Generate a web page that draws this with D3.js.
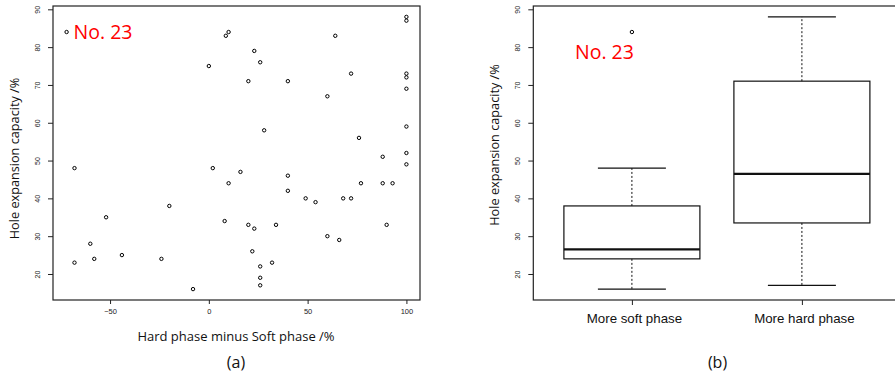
<!DOCTYPE html>
<html>
<head>
<meta charset="utf-8">
<script src="https://cdn.jsdelivr.net/npm/d3@7"></script>
<style>
  html, body { margin: 0; padding: 0; background: #fff; }
  svg { display: block; font-family: "Open Sans", sans-serif; }
</style>
</head>
<body>
<svg id="chart" width="895" height="377"></svg>
<script>
// Hard phase minus soft phase (%) and hole expansion capacity (%) per steel
const hardMinusSoft = [
  -72, -68, -68, -60, -58, -52, -44, -24, -20, -8,
  0,
  2, 8, 8.6, 10, 10, 16, 20, 20, 22, 23,
  23, 26, 26, 26, 26, 28, 32, 34, 40, 40,
  40, 49, 54, 60, 60, 64, 66, 68, 72, 72,
  76, 77, 88, 88, 90, 93, 100, 100, 100, 100,
  100, 100, 100, 100
];
const holeExpansion = [
  84, 48, 23, 28, 24, 35, 25, 24, 38, 16,
  75,
  48, 34, 83, 84, 44, 47, 71, 33, 26, 79,
  32, 76, 22, 19, 17, 58, 23, 33, 71, 46,
  42, 40, 39, 67, 30, 83, 29, 40, 73, 40,
  56, 44, 51, 44, 33, 44, 88, 87, 73, 72,
  69, 59, 52, 49
];

const groupNames = ["More soft phase", "More hard phase"];
const yTicks = [20, 30, 40, 50, 60, 70, 80, 90];
const xTicks = [-50, 0, 50, 100];
const highlightLabel = "No. 23";
const xTitle = "Hard phase minus Soft phase /%";
const yTitle = "Hole expansion capacity /%";
const panelTags = ["(a)", "(b)"];

const svg = d3.select("#chart");
const fmt = d => d < 0 ? "\u2212" + Math.abs(d) : String(d);

// R-style range padding: 4% on each side
function padded(ext) {
  const p = (ext[1] - ext[0]) * 0.04;
  return [ext[0] - p, ext[1] + p];
}

const plotTop = 6, plotBottom = 300;
const y = d3.scaleLinear().domain(padded(d3.extent(holeExpansion))).range([plotBottom, plotTop]);

// ---------- panel (a): scatter ----------
const aLeft = 53, aRight = 420;
const x = d3.scaleLinear().domain(padded(d3.extent(hardMinusSoft))).range([aLeft, aRight]);

function yAxis(g, x0) {
  g.attr("transform", `translate(${x0},0)`)
    .call(d3.axisLeft(y).tickValues(yTicks).tickSize(5).tickFormat(fmt));
  g.select(".domain").remove();
  g.selectAll(".tick line").attr("stroke", "#222").attr("stroke-width", 1);
  g.selectAll(".tick text")
    .attr("x", null).attr("dy", null)
    .attr("transform", "translate(-15.5,0) rotate(-90)")
    .attr("text-anchor", "middle")
    .attr("dominant-baseline", "central")
    .attr("font-size", 7).attr("fill", "#222");
}

const pa = svg.append("g");
pa.append("g").call(yAxis, aLeft);
const xa = pa.append("g").attr("transform", `translate(0,${plotBottom})`)
  .call(d3.axisBottom(x).tickValues(xTicks).tickSize(4).tickFormat(fmt));
xa.select(".domain").remove();
xa.selectAll(".tick line").attr("stroke", "#222").attr("stroke-width", 1);
xa.selectAll(".tick text").attr("y", 11).attr("dy", null)
  .attr("dominant-baseline", "central").attr("font-size", 7.5).attr("fill", "#222");

pa.append("rect").attr("x", aLeft).attr("y", plotTop)
  .attr("width", aRight - aLeft).attr("height", plotBottom - plotTop)
  .attr("fill", "none").attr("stroke", "#222").attr("stroke-width", 1.2);

pa.append("g").selectAll("circle")
  .data(hardMinusSoft.map((v, i) => [v, holeExpansion[i]]))
  .join("circle")
  .attr("cx", d => x(d[0])).attr("cy", d => y(d[1]))
  .attr("r", 1.7).attr("fill", "none").attr("stroke", "#000").attr("stroke-width", 1);

// label next to the steel with the largest soft-phase excess
const i23 = d3.minIndex(hardMinusSoft);
pa.append("text").attr("x", x(hardMinusSoft[i23]) + 7).attr("y", y(holeExpansion[i23]) + 7)
  .attr("fill", "#ff0000").attr("font-size", 19.5).text(highlightLabel);

pa.append("text").attr("x", 236).attr("y", 341).attr("text-anchor", "middle")
  .attr("font-size", 13).attr("fill", "#111").text(xTitle);
pa.append("text").attr("transform", "translate(19,158.5) rotate(-90)").attr("text-anchor", "middle")
  .attr("font-size", 12.7).attr("fill", "#111").text(yTitle);
pa.append("text").attr("x", 236).attr("y", 368).attr("text-anchor", "middle")
  .attr("font-size", 16).attr("fill", "#111").text(panelTags[0]);

// ---------- panel (b): box plots ----------
function fivenum(v) {
  const s = v.slice().sort((a, b) => a - b), n = s.length;
  const n4 = Math.floor((n + 3) / 2) / 2;
  return [1, n4, (n + 1) / 2, n + 1 - n4, n]
    .map(i => 0.5 * (s[Math.floor(i) - 1] + s[Math.ceil(i) - 1]));
}
function boxStats(v) {
  const f = fivenum(v), iqr = f[3] - f[1];
  const lo = f[1] - 1.5 * iqr, hi = f[3] + 1.5 * iqr;
  const inside = v.filter(d => d >= lo && d <= hi);
  return {
    q1: f[1], med: f[2], q3: f[3],
    wLo: d3.min(inside), wHi: d3.max(inside),
    out: v.filter(d => d < lo || d > hi)
  };
}
const soft = holeExpansion.filter((d, i) => hardMinusSoft[i] < 0);
const hard = holeExpansion.filter((d, i) => hardMinusSoft[i] > 0);
const boxes = [soft, hard].map((v, i) => ({ name: groupNames[i], pos: i + 1, ...boxStats(v) }));

const bLeft = 533.3, bRight = bLeft + 367.2;
const xb = d3.scaleLinear().domain([0.42, 2.58]).range([bLeft, bRight]);

const pb = svg.append("g");
pb.append("g").call(yAxis, bLeft);
const xba = pb.append("g").attr("transform", `translate(0,${plotBottom})`)
  .call(d3.axisBottom(xb).tickValues([1, 2]).tickSize(5).tickFormat((d, i) => groupNames[i]));
xba.select(".domain").remove();
xba.selectAll(".tick line").attr("stroke", "#222").attr("stroke-width", 1);
xba.selectAll(".tick text").attr("y", 18).attr("x", 2).attr("dy", null)
  .attr("dominant-baseline", "central").attr("font-size", 13.3).attr("fill", "#111");

pb.append("rect").attr("x", bLeft).attr("y", plotTop)
  .attr("width", bRight - bLeft).attr("height", plotBottom - plotTop)
  .attr("fill", "none").attr("stroke", "#222").attr("stroke-width", 1.2);

const hw = (xb(1.4) - xb(1)), cw = (xb(1.2) - xb(1));
const bg = pb.selectAll("g.box").data(boxes).join("g").attr("class", "box");
bg.append("line").attr("x1", d => xb(d.pos)).attr("x2", d => xb(d.pos))
  .attr("y1", d => y(d.q3)).attr("y2", d => y(d.wHi))
  .attr("stroke", "#111").attr("stroke-dasharray", "2,2");
bg.append("line").attr("x1", d => xb(d.pos)).attr("x2", d => xb(d.pos))
  .attr("y1", d => y(d.q1)).attr("y2", d => y(d.wLo))
  .attr("stroke", "#111").attr("stroke-dasharray", "2,2");
bg.selectAll("line.cap").data(d => [[d.pos, d.wHi], [d.pos, d.wLo]]).join("line")
  .attr("class", "cap")
  .attr("x1", d => xb(d[0]) - cw).attr("x2", d => xb(d[0]) + cw)
  .attr("y1", d => y(d[1])).attr("y2", d => y(d[1]))
  .attr("stroke", "#111").attr("stroke-width", 1.2);
bg.append("rect").attr("x", d => xb(d.pos) - hw).attr("width", 2 * hw)
  .attr("y", d => y(d.q3)).attr("height", d => y(d.q1) - y(d.q3))
  .attr("fill", "none").attr("stroke", "#111").attr("stroke-width", 1.2);
bg.append("line").attr("x1", d => xb(d.pos) - hw).attr("x2", d => xb(d.pos) + hw)
  .attr("y1", d => y(d.med)).attr("y2", d => y(d.med))
  .attr("stroke", "#111").attr("stroke-width", 2.2);
bg.selectAll("circle").data(d => d.out.map(v => [d.pos, v])).join("circle")
  .attr("cx", d => xb(d[0])).attr("cy", d => y(d[1]))
  .attr("r", 1.7).attr("fill", "none").attr("stroke", "#000").attr("stroke-width", 1);

pb.append("text").attr("x", 575).attr("y", 58.5)
  .attr("fill", "#ff0000").attr("font-size", 19.5).text(highlightLabel);
pb.append("text").attr("transform", "translate(499,145) rotate(-90)").attr("text-anchor", "middle")
  .attr("font-size", 12.7).attr("fill", "#111").text(yTitle);
pb.append("text").attr("x", 717.5).attr("y", 368).attr("text-anchor", "middle")
  .attr("font-size", 16).attr("fill", "#111").text(panelTags[1]);
</script>
</body>
</html>
